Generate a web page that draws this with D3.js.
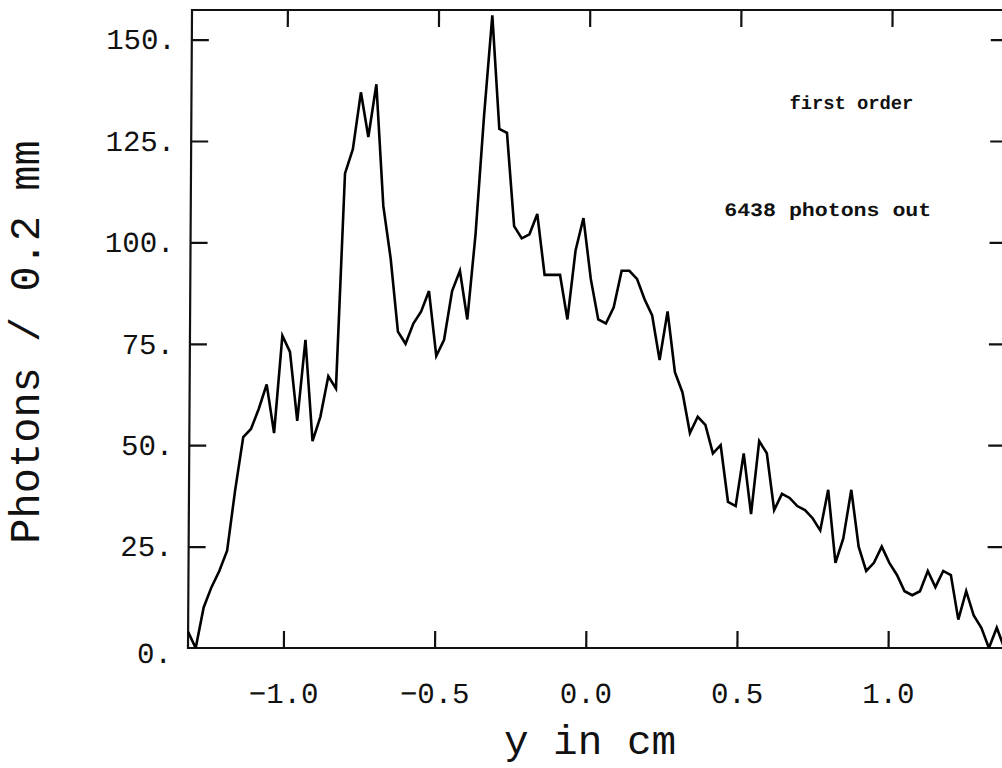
<!DOCTYPE html>
<html>
<head>
<meta charset="utf-8">
<script src="https://cdn.jsdelivr.net/npm/d3@7"></script>
<style>
  html, body { margin: 0; padding: 0; background: #fff; overflow: hidden; }
  svg { display: block; }
</style>
</head>
<body>
<svg id="chart" width="1002" height="768"></svg>
<script>
// Photon counts per 0.2 mm bin across the detector (first order)
const binStart = -1.3155;          // cm, centre of first bin
const binWidth = 2.7 / 106;        // cm
const counts = [
  4, 0, 10, 15, 19, 24, 39, 52, 54, 59,
  65, 53, 77, 73, 56, 76, 51, 57, 67, 64,
  117, 123, 137, 126, 139, 109, 96, 78, 75, 80,
  83, 88, 72, 76, 88, 93, 81, 102, 131, 156,
  128, 127, 104, 101, 102, 107, 92, 92, 92, 81,
  98, 106, 91, 81, 80, 84, 93, 93, 91, 86,
  82, 71, 83, 68, 63, 53, 57, 55, 48, 50,
  36, 35, 48, 33, 51, 48, 34, 38, 37, 35,
  34, 32, 29, 39, 21, 27, 39, 25, 19, 21,
  25, 21, 18, 14, 13, 14, 19, 15, 19, 18,
  7, 14, 8, 5, 0, 5, 0
];

const xTicks = [-1.0, -0.5, 0.0, 0.5, 1.0];
const yTicks = [0, 25, 50, 75, 100, 125, 150];
const xDomain = [-1.3155, 1.3834];
const yDomain = [0, 157.3];

const labels = {
  x: "y in cm",
  y: "Photons / 0.2 mm",
  note1: "first order",
  note2: "6438 photons out"
};

const plotL = 188, plotR = 1004, plotT = 10, plotB = 648;
const svg = d3.select("#chart");

const x = d3.scaleLinear().domain(xDomain).range([plotL, plotR]);
const y = d3.scaleLinear().domain(yDomain).range([plotB, plotT]);

const mono = "'Liberation Mono', 'DejaVu Sans Mono', monospace";

// plot group, slightly sheared like the plotter output
const g = svg.append("g")
  .attr("transform", `translate(0,${plotB}) skewX(-0.36) translate(0,${-plotB})`);

const defs = svg.append("defs");
defs.append("clipPath").attr("id", "clip")
  .append("rect").attr("x", plotL).attr("y", plotT - 2)
  .attr("width", plotR - plotL).attr("height", plotB - plotT + 2);

// frame
g.append("rect")
  .attr("x", plotL).attr("y", plotT)
  .attr("width", plotR - plotL).attr("height", plotB - plotT)
  .attr("fill", "none").attr("stroke", "#111").attr("stroke-width", 2.2);

const tickLen = 17;
const axisStyle = sel => {
  sel.select(".domain").remove();
  sel.selectAll(".tick line").attr("stroke", "#111").attr("stroke-width", 2.2);
  sel.selectAll(".tick text").attr("fill", "#111");
};

// bottom axis with labels
g.append("g")
  .attr("transform", `translate(0,${plotB})`)
  .call(d3.axisBottom(x).tickValues(xTicks).tickSizeInner(-tickLen).tickSizeOuter(0)
        .tickPadding(55).tickFormat(d3.format(".1f")))
  .call(axisStyle)
  .call(s => s.selectAll(".tick text")
    .attr("font-family", mono).attr("font-size", 29).attr("dy", 0));

// top axis ticks
g.append("g")
  .attr("transform", `translate(0,${plotT})`)
  .call(d3.axisTop(x).tickValues(xTicks).tickSizeInner(-tickLen).tickSizeOuter(0).tickFormat(""))
  .call(axisStyle);

// left axis with labels
g.append("g")
  .attr("transform", `translate(${plotL},0)`)
  .call(d3.axisLeft(y).tickValues(yTicks.filter(v => v > 0)).tickSizeInner(-tickLen).tickSizeOuter(0)
        .tickPadding(16).tickFormat(d => d + "."))
  .call(axisStyle)
  .call(s => s.selectAll(".tick text")
    .attr("font-family", mono).attr("font-size", 29));

// zero label sits at the corner
g.append("text")
  .attr("x", plotL - 16).attr("y", y(0) + 6).attr("dy", "0.32em")
  .attr("text-anchor", "end")
  .attr("font-family", mono).attr("font-size", 29).attr("fill", "#111")
  .text("0.");

// right axis ticks
g.append("g")
  .attr("transform", `translate(${plotR},0)`)
  .call(d3.axisRight(y).tickValues(yTicks.filter(v => v > 0)).tickSizeInner(-tickLen).tickSizeOuter(0).tickFormat(""))
  .call(axisStyle);

// histogram trace
const line = d3.line()
  .x((d, i) => x(binStart + i * binWidth))
  .y(d => y(d));

g.append("path")
  .datum(counts)
  .attr("clip-path", "url(#clip)")
  .attr("d", line)
  .attr("fill", "none")
  .attr("stroke", "#000")
  .attr("stroke-width", 2.6)
  .attr("stroke-linejoin", "miter");

// annotations
g.append("text")
  .attr("x", 848).attr("y", 109).attr("text-anchor", "middle")
  .attr("font-family", mono).attr("font-weight", "bold").attr("font-size", 19)
  .attr("textLength", 124).attr("lengthAdjust", "spacingAndGlyphs")
  .attr("fill", "#111").text(labels.note1);

g.append("text")
  .attr("x", 825).attr("y", 216).attr("text-anchor", "middle")
  .attr("font-family", mono).attr("font-weight", "bold").attr("font-size", 19)
  .attr("textLength", 207).attr("lengthAdjust", "spacingAndGlyphs")
  .attr("fill", "#111").text(labels.note2);

// axis titles
svg.append("text")
  .attr("x", 590).attr("y", 754).attr("text-anchor", "middle")
  .attr("font-family", mono).attr("font-size", 41).attr("fill", "#111")
  .text(labels.x);

svg.append("text")
  .attr("transform", "translate(39,342) rotate(-90)")
  .attr("text-anchor", "middle")
  .attr("font-family", mono).attr("font-size", 42).attr("fill", "#111")
  .text(labels.y);
</script>
</body>
</html>
